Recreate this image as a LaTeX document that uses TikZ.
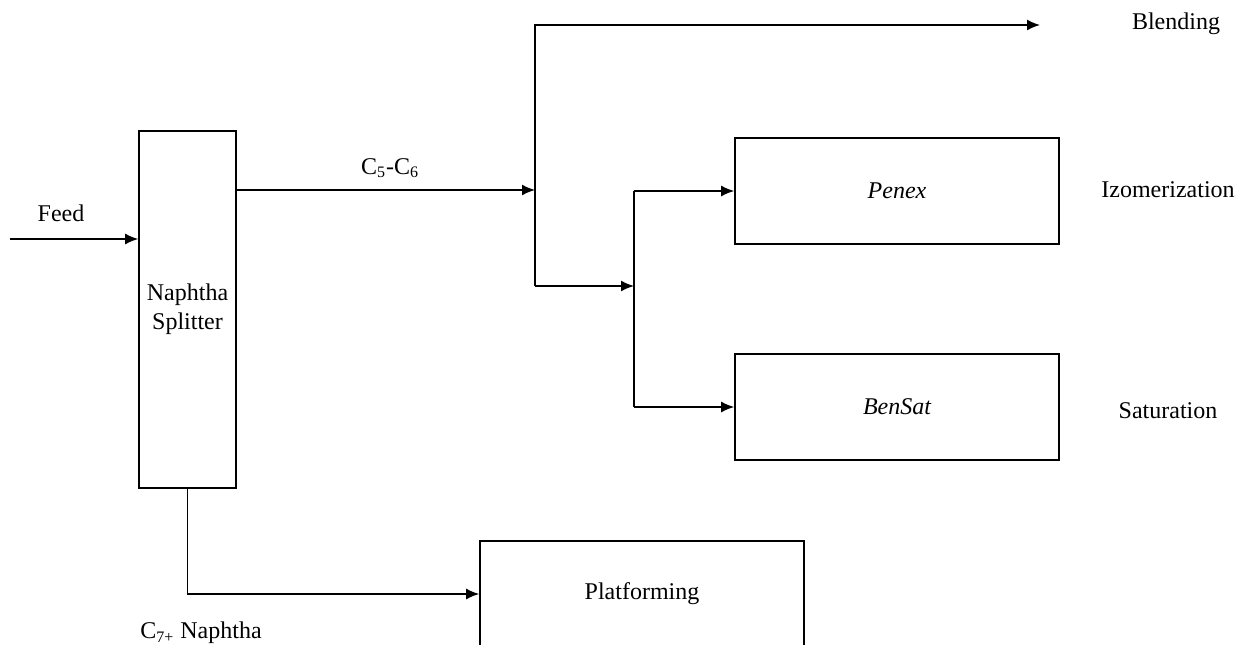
\documentclass[tikz,border=0pt]{standalone}
\usepackage{fontspec}
\setmainfont{Liberation Serif}
\usetikzlibrary{arrows.meta}
\tikzset{
  unitbox/.style={draw,rectangle,line width=0.8pt,inner sep=0pt,align=center},
  flow/.style={->,line width=0.8pt},
  tag/.style={inner sep=0pt,align=center},
}
\begin{document}
\begin{tikzpicture}[x=0.5pt,y=0.5pt,>={Latex[length=6.5pt,width=5.5pt]},font=\fontsize{12}{14.5}\selectfont]
  \clip (0,0) rectangle (1240,644);
  \useasboundingbox (0,0) rectangle (1240,644);
  % Node: splitter
  \node[unitbox,minimum width=48.5pt,minimum height=178.5pt] (splitter) at (187.5,334.5) {Naphtha\\Splitter};
  % Node: penex
  \node[unitbox,minimum width=162pt,minimum height=53pt] (penex) at (897,453) {\itshape Penex};
  % Node: bensat
  \node[unitbox,minimum width=162pt,minimum height=53pt] (bensat) at (897,237) {\itshape BenSat};
  % Node: platforming
  \node[unitbox,minimum width=162pt,minimum height=53pt] (platf) at (642,50) {Platforming};
  % Labels
  \node[tag] (feedlbl) at (61,431) {Feed};
  \node[tag] (c56lbl) at (390,476) {C\textsubscript{5}-C\textsubscript{6}};
  \node[tag] (blendlbl) at (1176,620) {Blending};
  \node[tag] (izomlbl) at (1168,454) {Izomerization};
  \node[tag] (satlbl) at (1168,233) {Saturation};
  \node[tag] (c7lbl) at (201,11) {C\textsubscript{7+} Naphtha};
  % Coordinates
  \coordinate (feedin) at (10,405);
  \coordinate (j1) at (535,454);
  \coordinate (jtop) at (535,619);
  \coordinate (blendout) at (1040,619);
  \coordinate (j2) at (535,358);
  \coordinate (j3) at (634,358);
  \coordinate (j3top) at (634,453);
  \coordinate (j3bot) at (634,237);
  \coordinate (jlow) at (187.5,50);
  % Edge: feed -> splitter
  \draw[flow] (feedin) -- (feedin -| splitter.west);
  % Edge: splitter -> j1
  \draw[flow] (splitter.east |- j1) -- (j1);
  % Edge: j1 -> blending
  \draw[flow] (j2) -- (jtop) -- (blendout);
  % Edge: j2 -> j3
  \draw[flow] (j2) -- (j3);
  % Edge: j3 -> penex / bensat
  \draw[line width=0.8pt] (j3top) -- (j3bot);
  \draw[flow] (j3top) -- (penex.west);
  \draw[flow] (j3bot) -- (bensat.west);
  % Edge: splitter -> platforming
  \draw[flow] (splitter.south) -- (jlow) -- (platf.west);
\end{tikzpicture}
\end{document}
